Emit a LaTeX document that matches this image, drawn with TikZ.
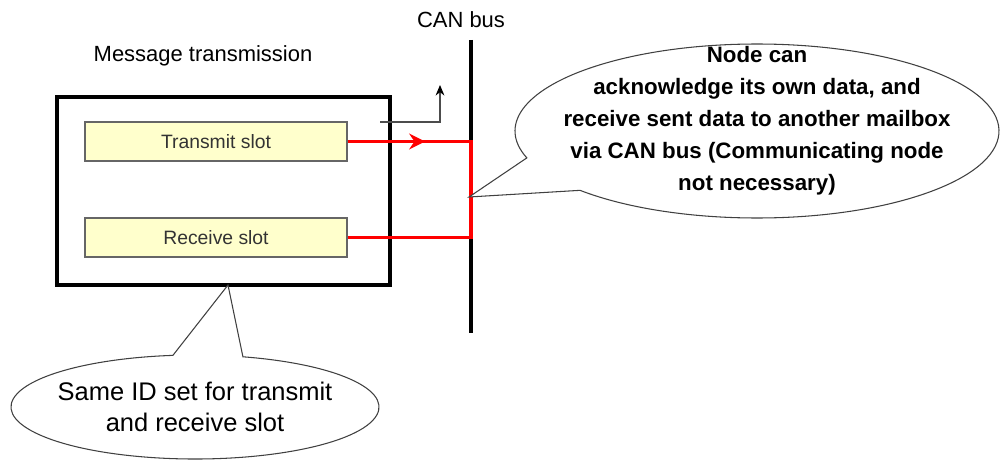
\documentclass[tikz,border=0pt]{standalone}
\usepackage{fontspec}
\setmainfont{Liberation Sans}
\usepackage{xcolor}
\usetikzlibrary{arrows.meta,calc}
\tikzset{>=stealth}
\definecolor{slotfill}{HTML}{FFFFCC}
\definecolor{slotline}{HTML}{666666}
\definecolor{canred}{HTML}{FF0000}

\begin{document}
\begin{tikzpicture}[
        slot/.style={draw=slotline, fill=slotfill, line width=0.6pt, minimum width=5.24cm, minimum height=0.78cm, inner sep=0pt, text=black!80, font=\fontsize{11}{13}\selectfont},
        redwire/.style={draw=canred, line width=1.7pt},
        callout/.style={draw=black!75, fill=white, line width=0.6pt},
        title/.style={font=\fontsize{12.5}{15}\selectfont}
    ]
        \useasboundingbox (0,0) rectangle (20,9.2);
        \def\bx{9.42}

        %mailbox
        \node[title] (msg) at (4.06,8.08) {Message transmission};
        \node[draw, line width=2pt, minimum width=6.66cm, minimum height=3.76cm, inner sep=0pt] (mbox) at (4.47,5.38) {};
        \node[slot] (tx) at (4.32,6.37) {Transmit slot};
        \node[slot] (rx) at (4.32,4.45) {Receive slot};

        %bus
        \node[title] (can) at (9.22,8.8) {CAN bus};
        \coordinate (bustop) at (\bx,8.4);
        \coordinate (busbot) at (\bx,2.54);
        \coordinate (bt) at (\bx,6.37);
        \coordinate (br) at (\bx,4.45);
        \coordinate (tarr) at (8.5,6.37);
        \draw[line width=2.3pt] (bustop) -- (busbot);

        %wires
        \draw[redwire] (tx.east) -- (bt);
        \draw[redwire] (rx.east) -- (br);
        \draw[redwire, -{Stealth[length=9pt,width=9pt,inset=3pt]}] (tx.east) -- (tarr);
        \draw[canred, line width=2.3pt] ($(bt)+(0,0.03)$) -- ($(br)+(0,-0.03)$);

        %ack arrow
        \coordinate (ackstart) at (7.6,6.76);
        \coordinate (ackbend) at (8.8,6.76);
        \coordinate (acktop) at (8.8,7.5);
        \draw[black!70, line width=0.6pt, -{Stealth[length=6pt,width=5pt,black]}] (ackstart) -- (ackbend) -- (acktop);

        %callouts
        \coordinate (idtip) at (4.56,3.5);
        \coordinate (idc) at (3.9,1.06);
        \draw[callout] (idtip) -- ($(idc)+(74.9:3.68cm and 1.04cm)$) arc[start angle=74.9, end angle=-263.1, x radius=3.68cm, y radius=1.04cm] -- cycle;
        \node[align=center, font=\fontsize{14.5}{17.7}\selectfont] (idnote) at (idc) {Same ID set for transmit\\and receive slot};

        \coordinate (acktip) at (9.38,5.26);
        \coordinate (ackc) at (15.14,6.58);
        \draw[callout] (acktip) -- ($(ackc)+(223:4.84cm and 1.74cm)$) arc[start angle=223, end angle=558, x radius=4.84cm, y radius=1.74cm] -- cycle;
        \node[align=center, font=\bfseries\fontsize{12.7}{18.2}\selectfont] (acknote) at (15.14,6.78) {Node can\\acknowledge its own data, and\\receive sent data to another mailbox\\via CAN bus (Communicating node\\not necessary)};

\end{tikzpicture}
\end{document}
